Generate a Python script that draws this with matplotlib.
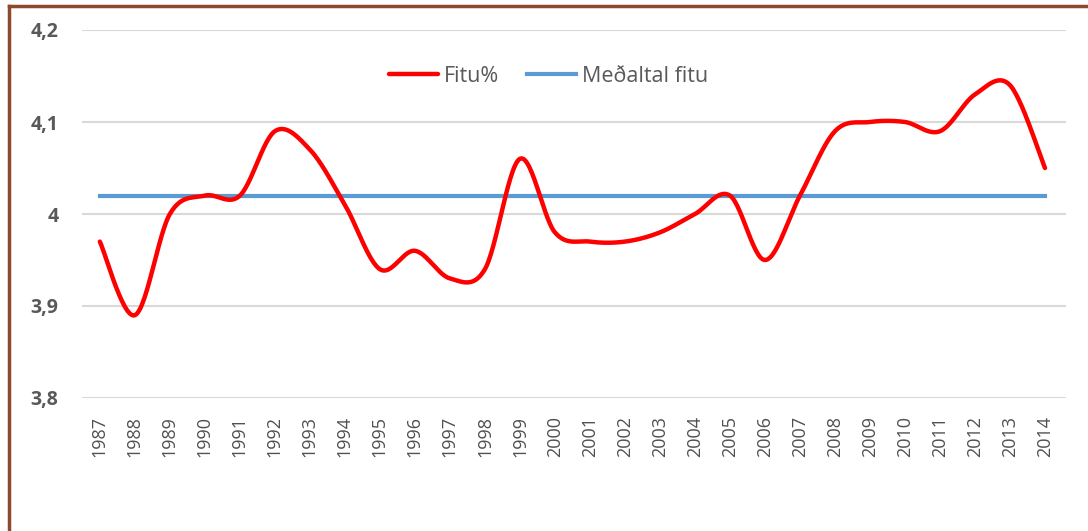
import numpy as np
import matplotlib
matplotlib.use('Agg')
import matplotlib.pyplot as plt
from matplotlib.lines import Line2D

plt.rcParams['font.family'] = ['Open Sans', 'DejaVu Sans']

years = list(range(1987, 2015))
fitu = [3.97, 3.89, 4.00, 4.02, 4.02, 4.09, 4.07, 4.01, 3.94, 3.96,
        3.93, 3.94, 4.06, 3.98, 3.97, 3.97, 3.98, 4.00, 4.02, 3.95,
        4.02, 4.09, 4.10, 4.10, 4.09, 4.13, 4.14, 4.05]
medaltal = 4.02
yticks = [3.8, 3.9, 4.0, 4.1, 4.2]
ytick_labels = ['3,8', '3,9', '4', '4,1', '4,2']

# Excel-style smoothed line through the data points (Catmull-Rom bezier)
def smooth(xs, ys, n=30):
    xs, ys = np.asarray(xs, float), np.asarray(ys, float)
    px = np.concatenate([[xs[0]], xs, [xs[-1]]])
    py = np.concatenate([[ys[0]], ys, [ys[-1]]])
    ox, oy = [], []
    t = np.linspace(0, 1, n)
    for i in range(1, len(px) - 2):
        p0 = np.array([px[i], py[i]])
        p3 = np.array([px[i + 1], py[i + 1]])
        c1 = p0 + (np.array([px[i + 1], py[i + 1]]) - np.array([px[i - 1], py[i - 1]])) / 6
        c2 = p3 - (np.array([px[i + 2], py[i + 2]]) - np.array([px[i], py[i]])) / 6
        b = ((1 - t) ** 3)[:, None] * p0 + (3 * (1 - t) ** 2 * t)[:, None] * c1 \
            + (3 * (1 - t) * t ** 2)[:, None] * c2 + (t ** 3)[:, None] * p3
        ox.extend(b[:, 0]); oy.extend(b[:, 1])
    return np.array(ox), np.array(oy)

fig = plt.figure(figsize=(10.88, 5.31), dpi=100)
ax = fig.add_axes([82 / 1088, 1 - 398 / 531, (1066 - 82) / 1088, (398 - 30) / 531])

sx, sy = smooth(years, fitu)
ax.plot(sx, sy, color='#FF0000', lw=3.2, label='Fitu%', solid_capstyle='round', zorder=3)
ax.plot([years[0], years[-1]], [medaltal, medaltal], color='#5B9BD5', lw=3, label='Meðaltal fitu', zorder=2)

ax.set_xlim(1986.49, 2014.6)
ax.set_ylim(3.8, 4.2)
ax.set_yticks(yticks)
ax.set_yticklabels(ytick_labels, fontsize=14, fontweight='bold', color='#595959')
ax.set_xticks(years)
ax.set_xticklabels([str(y) for y in years], rotation=90, fontsize=13, color='#505050')
ax.tick_params(axis='x', length=0, pad=13)
ax.tick_params(axis='y', length=0, pad=17)
ax.grid(axis='y', color='#D9D9D9', lw=1.5)
ax.set_axisbelow(True)
for s in ax.spines.values():
    s.set_visible(False)

ax.legend(loc='center', bbox_to_anchor=(0.474, 0.875), ncol=2, frameon=False,
          fontsize=15.5, handlelength=2.3, columnspacing=1.3, handletextpad=0.25,
          labelcolor='#595959')

# brown frame on top and left
fig.add_artist(Line2D([9 / 1088, 9 / 1088], [0, 1 - 6 / 531], color='#8B4A2B', lw=2.5))
fig.add_artist(Line2D([9 / 1088, 1], [1 - 6 / 531, 1 - 6 / 531], color='#8B4A2B', lw=2.5))

fig.savefig('out.png', dpi=100)
